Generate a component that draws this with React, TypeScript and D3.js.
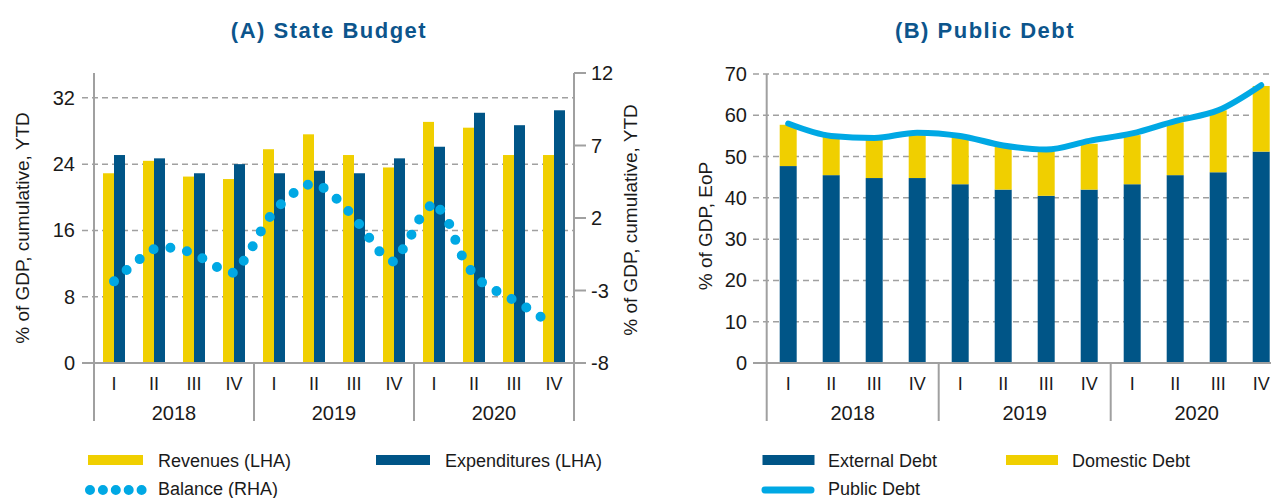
import React from 'react'
import * as d3 from 'd3'

// categories
const years = ['2018', '2019', '2020']
const quarters = ['I', 'II', 'III', 'IV']
const periods = years.flatMap(y => quarters.map(q => `${y} ${q}`))
const months = years.flatMap(y => d3.range(1, 13).map(m => `${y}-${m}`))

// (A) State Budget, % of GDP cumulative YTD
const revenues = [22.9, 24.4, 22.5, 22.2, 25.8, 27.6, 25.1, 23.6, 29.1, 28.4, 25.1, 25.1]
const expenditures = [25.1, 24.7, 22.9, 24.0, 22.9, 23.2, 22.9, 24.7, 26.1, 30.2, 28.7, 30.5]
// monthly balance, Feb 2018 .. Nov 2020
const balanceStart = '2018-2'
const balance = [-2.37, -1.54, -0.78, -0.14, -0.03, -0.15, -0.46, -0.97, -1.54, -1.8, -0.63, 1.06,
  2.54, 3.33, 4.16, 4.4, 3.95, 3.06, 2.06, 0.81, -0.42, -1.05, 0.3, 2.09,
  3.15, 1.92, -0.46, -1.98, -2.74, -3.18, -3.67, -4.21, -4.81, -5.4]
const leftTicks = [0, 8, 16, 24, 32]
const rightTicks = [-8, -3, 2, 7, 12]

// (B) Public Debt, % of GDP EoP
const externalDebt = [47.7, 45.5, 44.8, 44.8, 43.3, 42.0, 40.5, 42.0, 43.3, 45.5, 46.2, 51.2]
const domesticDebt = [10.0, 9.5, 9.7, 10.4, 11.2, 10.5, 10.8, 11.1, 11.9, 12.8, 15.0, 15.9]
const publicDebt = [58.0, 55.0, 54.5, 55.8, 55.0, 52.7, 51.7, 53.8, 55.6, 58.6, 61.2, 67.3]
const debtTicks = [0, 10, 20, 30, 40, 50, 60, 70]

const YELLOW = '#f0cf00'
const NAVY = '#005587'
const SKY = '#00a8e4'
const GREY = '#a0a0a0'
const TITLE = '#0c558c'
const INK = '#1a1a1a'
const FONT = '"Liberation Sans", Arial, sans-serif'

function CategoryAxis({ x0, x1, y, qScale, yScale }: any) {
  return (
    <g>
      <line x1={x0} x2={x1} y1={y} y2={y} stroke={GREY} strokeWidth={2} />
      {years.map(yr => (
        <line key={yr} x1={yScale(yr)} x2={yScale(yr)} y1={y} y2={421} stroke={GREY} strokeWidth={2} />
      ))}
      <line x1={yScale(years[2]) + yScale.bandwidth()} x2={yScale(years[2]) + yScale.bandwidth()} y1={y} y2={421} stroke={GREY} strokeWidth={2} />
      {periods.map(p => (
        <text key={p} x={qScale(p) + qScale.bandwidth() / 2} y={389.5} textAnchor="middle" fontSize={18} fill={INK}>
          {p.split(' ')[1]}
        </text>
      ))}
      {years.map(yr => (
        <text key={yr} x={yScale(yr) + yScale.bandwidth() / 2} y={420} textAnchor="middle" fontSize={20} fill={INK}>
          {yr}
        </text>
      ))}
    </g>
  )
}

function StateBudget() {
  const x0 = 94, x1 = 574
  const x = d3.scaleBand().domain(periods).range([x0, x1])
  const xYear = d3.scaleBand().domain(years).range([x0, x1])
  const xMonth = d3.scaleBand().domain(months).range([x0, x1])
  const yL = d3.scaleLinear().domain([0, 35]).range([363, 73])
  const yR = d3.scaleLinear().domain([-8, 12]).range([363, 73])
  const barW = 11
  const start = months.indexOf(balanceStart)
  const line = d3.line<number>()
    .x((d, i) => xMonth(months[start + i])! + xMonth.bandwidth() / 2)
    .y(d => yR(d))

  return (
    <g>
      <text x={329} y={38} textAnchor="middle" fontSize={22} fontWeight="bold" fill={TITLE} letterSpacing={1.5}>
        (A) State Budget
      </text>
      {leftTicks.filter(t => t > 0).map(t => (
        <line key={t} x1={82} x2={x1} y1={yL(t)} y2={yL(t)} stroke={GREY} strokeWidth={1.5} strokeDasharray="6 4" />
      ))}
      <line x1={82} x2={x0} y1={yL(0)} y2={yL(0)} stroke={GREY} strokeWidth={2} />
      {leftTicks.map(t => (
        <text key={t} x={75} y={yL(t)} dy="0.35em" textAnchor="end" fontSize={20} fill={INK}>{t}</text>
      ))}
      {periods.map((p, i) => (
        <g key={p}>
          <rect x={x(p)! + x.bandwidth() / 2 - barW} y={yL(revenues[i])} width={barW} height={yL(0) - yL(revenues[i])} fill={YELLOW} />
          <rect x={x(p)! + x.bandwidth() / 2} y={yL(expenditures[i])} width={barW} height={yL(0) - yL(expenditures[i])} fill={NAVY} />
        </g>
      ))}
      <line x1={x0} x2={x0} y1={73} y2={363} stroke={GREY} strokeWidth={2} />
      <line x1={x1} x2={x1} y1={73} y2={363} stroke={GREY} strokeWidth={2} />
      {rightTicks.map(t => (
        <g key={t}>
          <line x1={x1} x2={586} y1={yR(t)} y2={yR(t)} stroke={GREY} strokeWidth={2} />
          <text x={591} y={yR(t)} dy="0.35em" fontSize={20} fill={INK}>{t}</text>
        </g>
      ))}
      <CategoryAxis x0={x0} x1={x1} y={363} qScale={x} yScale={xYear} />
      <path d={line(balance)!} fill="none" stroke={SKY} strokeWidth={10} strokeLinecap="round" strokeDasharray="0 17" />
      <text transform="translate(22,228) rotate(-90)" textAnchor="middle" dy="0.35em" fontSize={19} fill={INK}>
        % of GDP, cumulative, YTD
      </text>
      <text transform="translate(630,220) rotate(-90)" textAnchor="middle" dy="0.35em" fontSize={19} fill={INK}>
        % of GDP, cumulative, YTD
      </text>
      {/* legend */}
      <rect x={88} y={455} width={55} height={10} fill={YELLOW} />
      <text x={158} y={466.5} fontSize={18} fill={INK}>Revenues (LHA)</text>
      <rect x={376} y={455} width={54} height={10} fill={NAVY} />
      <text x={445} y={466.5} fontSize={18} fill={INK}>Expenditures (LHA)</text>
      <line x1={90} x2={141.6} y1={490} y2={490} stroke={SKY} strokeWidth={10} strokeLinecap="round" strokeDasharray="0 12.9" />
      <text x={158} y={495} fontSize={18} fill={INK}>Balance (RHA)</text>
    </g>
  )
}

function PublicDebt() {
  const x0 = 766.7, x1 = 766.7 + 516
  const x = d3.scaleBand().domain(periods).range([x0, x1])
  const xYear = d3.scaleBand().domain(years).range([x0, x1])
  const y = d3.scaleLinear().domain([0, 70]).range([363, 74])
  const barW = 17
  const cx = (p: string) => x(p)! + x.bandwidth() / 2
  const line = d3.line<number>()
    .x((d, i) => cx(periods[i]))
    .y(d => y(d))
    .curve(d3.curveMonotoneX)

  return (
    <g>
      <text x={985} y={38} textAnchor="middle" fontSize={22} fontWeight="bold" fill={TITLE} letterSpacing={1.5}>
        (B) Public Debt
      </text>
      {debtTicks.filter(t => t > 0).map(t => (
        <line key={t} x1={753} x2={1271} y1={y(t)} y2={y(t)} stroke={GREY} strokeWidth={1.5} strokeDasharray="6 4" />
      ))}
      <line x1={753} x2={x0} y1={y(0)} y2={y(0)} stroke={GREY} strokeWidth={2} />
      {debtTicks.map(t => (
        <text key={t} x={747} y={y(t)} dy="0.35em" textAnchor="end" fontSize={20} fill={INK}>{t}</text>
      ))}
      {periods.map((p, i) => (
        <g key={p}>
          <rect x={cx(p) - barW / 2} y={y(externalDebt[i])} width={barW} height={y(0) - y(externalDebt[i])} fill={NAVY} />
          <rect x={cx(p) - barW / 2} y={y(externalDebt[i] + domesticDebt[i])} width={barW}
            height={y(externalDebt[i]) - y(externalDebt[i] + domesticDebt[i])} fill={YELLOW} />
        </g>
      ))}
      <line x1={x0} x2={x0} y1={74} y2={363} stroke={GREY} strokeWidth={2} />
      <CategoryAxis x0={x0} x1={x1} y={363} qScale={x} yScale={xYear} />
      <path d={line(publicDebt)!} fill="none" stroke={SKY} strokeWidth={6} strokeLinecap="round" />
      <text transform="translate(705,226) rotate(-90)" textAnchor="middle" dy="0.35em" fontSize={19} fill={INK}>
        % of GDP, EoP
      </text>
      {/* legend */}
      <rect x={762.5} y={455} width={52} height={10} fill={NAVY} />
      <text x={828} y={466.5} fontSize={18} fill={INK}>External Debt</text>
      <rect x={1006} y={455} width={52} height={10} fill={YELLOW} />
      <text x={1072} y={466.5} fontSize={18} fill={INK}>Domestic Debt</text>
      <line x1={765} x2={811} y1={490} y2={490} stroke={SKY} strokeWidth={7} strokeLinecap="round" />
      <text x={828} y={495} fontSize={18} fill={INK}>Public Debt</text>
    </g>
  )
}

export default function App() {
  return (
    <svg width={1271} height={498} style={{ position: 'absolute', left: 0, top: 0, background: '#fff' }}
      fontFamily={FONT}>
      <StateBudget />
      <PublicDebt />
    </svg>
  )
}
